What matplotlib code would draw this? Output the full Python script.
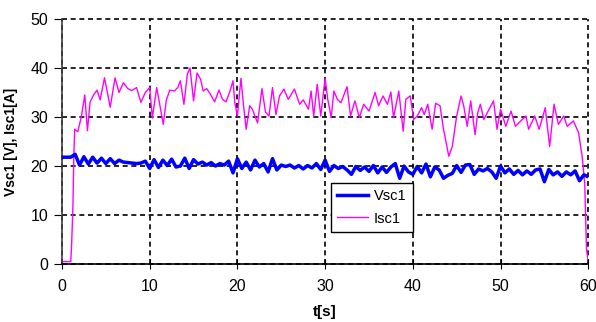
import numpy as np
import matplotlib
matplotlib.use("Agg")
import matplotlib.pyplot as plt

plt.rcParams["font.family"] = ["Liberation Sans", "DejaVu Sans"]

# Vsc1 [V], sampled every 0.5 s from 0 to 60 s
vsc1 = [21.8, 21.8, 21.8, 22.4, 20.2, 21.9, 20.4, 21.8, 20.6, 21.6,
	20.5, 21.5, 20.5, 21.2, 20.8, 20.7, 20.6, 20.5, 20.6, 21.0,
	19.5, 21.3, 19.7, 21.2, 20.1, 21.4, 19.8, 20.0, 21.6, 19.5,
	21.3, 20.4, 20.8, 20.2, 20.7, 20.0, 20.5, 20.2, 21.0, 18.6,
	21.5, 19.5, 20.8, 19.2, 21.2, 19.8, 20.5, 18.8, 21.5, 19.2,
	20.2, 19.9, 20.2, 19.6, 20.1, 19.4, 20.1, 19.6, 20.5, 19.3,
	21.2, 18.9, 20.1, 19.5, 19.9, 19.2, 18.3, 19.9, 19.1, 19.8,
	18.9, 20.1, 18.6, 19.8, 18.7, 19.8, 20.5, 17.5, 20.0, 18.8,
	18.3, 19.9, 18.6, 20.4, 17.8, 19.8, 19.2, 17.5, 18.1, 18.5,
	20.1, 18.7, 20.2, 20.3, 18.3, 19.4, 19.0, 19.5, 18.8, 17.5,
	20.0, 18.6, 19.4, 18.3, 19.1, 18.2, 19.0, 18.3, 19.2, 19.4,
	16.8, 19.3, 18.2, 18.8, 17.9, 18.8, 18.2, 19.0, 17.0, 18.2,
	17.8]
t_vsc1 = np.linspace(0, 60, len(vsc1))

# Isc1 [A]
t_isc1 = [0, 1.0, 1.1, 1.25, 1.35, 1.45, 1.8, 2.2, 2.6, 2.9,
	3.2, 3.6, 4.0, 4.35, 4.85, 5.5, 6.05, 6.5, 7.0, 7.5,
	7.95, 8.5, 9.0, 9.5, 10.0, 10.3, 10.8, 11.55, 11.9, 12.3,
	12.8, 13.2, 13.5, 13.9, 14.3, 14.6, 15.0, 15.4, 15.8, 16.1,
	16.5, 16.9, 17.4, 17.9, 18.3, 18.7, 19.1, 19.5, 19.7, 20.0,
	20.4, 20.7, 21.0, 21.4, 21.7, 22.3, 22.8, 23.2, 23.6, 24.0,
	24.4, 24.8, 25.3, 25.8, 26.5, 27.1, 27.5, 28.1, 28.4, 28.7,
	29.1, 29.5, 30.0, 30.3, 30.7, 31.0, 31.4, 31.8, 32.5, 32.9,
	33.4, 33.9, 34.4, 35.0, 35.7, 36.1, 36.6, 37.1, 37.5, 37.8,
	38.4, 38.9, 39.2, 39.7, 40.1, 40.5, 41.0, 41.3, 41.7, 42.2,
	42.6, 43.1, 43.5, 44.1, 44.5, 45.0, 45.5, 45.8, 46.2, 46.6,
	47.1, 47.4, 47.7, 48.1, 48.7, 49.2, 49.6, 50.0, 50.6, 51.2,
	51.7, 52.3, 52.9, 53.2, 53.9, 54.4, 55.1, 55.6, 56.1, 56.6,
	57.2, 57.6, 58.3, 58.9, 59.3, 59.6, 59.8, 60.0]
isc1 = [0.5, 0.5, 4, 12, 22, 27.5, 27, 30, 34.5, 27.2,
	33, 34.5, 35.5, 33.5, 38, 32, 38, 35, 37, 35.8,
	35.4, 36, 33, 35, 36, 29.8, 36, 28.5, 33.5, 35.5,
	35.3, 36, 37.4, 32.6, 38.8, 40, 33.3, 39, 37.7, 35.3,
	35.8, 34.7, 33.1, 35.5, 33.6, 33.1, 35, 37.4, 33, 30.2,
	37.9, 32.3, 27.5, 32.3, 31.6, 28.8, 35.8, 31, 30.2, 36,
	30.5, 34.3, 35.7, 33.6, 35.7, 32.6, 33.5, 31.6, 35.3, 30.2,
	36.7, 30.2, 37.9, 33.6, 29.9, 35.3, 33.6, 32.9, 36.2, 30.2,
	33.3, 29.9, 32.6, 31.2, 35, 32.3, 34.3, 32.6, 35.1, 29.9,
	35.3, 27.1, 33.6, 34.3, 29.5, 30.2, 31.9, 30.5, 32.6, 27.5,
	32.8, 32.3, 27.5, 22, 24, 30.2, 34.3, 32.3, 28.1, 33.3,
	26.4, 30.9, 32.6, 29.5, 31.6, 33.3, 27.5, 31.6, 28.1, 31.2,
	28.1, 29.2, 30.2, 27.5, 30.2, 27.5, 31.9, 24, 32.6, 28.5,
	30.2, 28.1, 29.2, 26.8, 22, 16.5, 3, 0.5]

fig = plt.figure(figsize=(5.96, 3.22), dpi=100)
ax = fig.add_axes([0.104, 0.180, 0.883, 0.761])

ax.plot(t_vsc1, vsc1, color="#0000FF", lw=2.5, label="Vsc1", zorder=3)
ax.plot(t_isc1, isc1, color="#FF00FF", lw=1.0, label="Isc1", zorder=2)

ax.set_xlim(0, 60)
ax.set_ylim(0, 50)
ax.set_xticks(range(0, 61, 10))
ax.set_yticks(range(0, 51, 10))
ax.grid(True, color="black", ls=(0, (3, 2.2)), lw=1.2)
# keep the edge grid lines (t=60, 50) whole
for gl in ax.get_xgridlines() + ax.get_ygridlines():
	gl.set_clip_on(False)
for s in ["top", "right"]:
	ax.spines[s].set_visible(False)
ax.spines["left"].set_color("#404040")
ax.spines["left"].set_linewidth(1.2)
ax.spines["bottom"].set_color("black")
ax.spines["bottom"].set_linewidth(1.2)
ax.tick_params(labelsize=11.5)
ax.tick_params(axis="x", direction="inout", length=7, pad=7)
ax.tick_params(axis="y", direction="out", length=6, pad=4)

ax.set_xlabel("t[s]", fontsize=11, fontweight="bold", labelpad=8)
ax.set_ylabel("Vsc1 [V], Isc1[A]", fontsize=10, fontweight="bold", labelpad=9)

leg = ax.legend(loc="upper left", bbox_to_anchor=(0.511, 0.331), fontsize=10.5,
	frameon=True, fancybox=False, edgecolor="black", framealpha=1.0,
	handlelength=2.1, borderpad=0.45, labelspacing=0.55, handletextpad=0.4,
	borderaxespad=0)
leg.get_frame().set_linewidth(1.0)

fig.savefig("out.png", dpi=100)
